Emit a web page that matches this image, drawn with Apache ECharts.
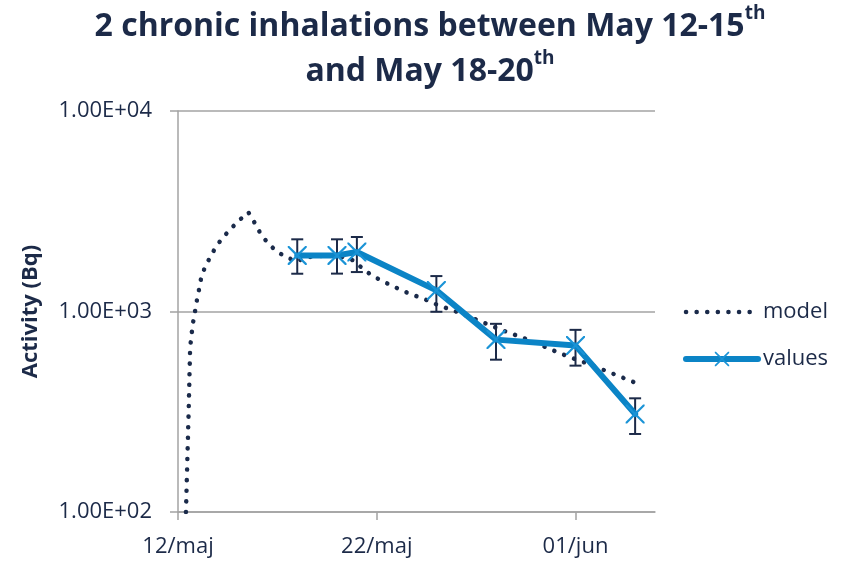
<!DOCTYPE html>
<html>
<head>
<meta charset="utf-8">
<script src="https://cdn.jsdelivr.net/npm/echarts@6/dist/echarts.min.js"></script>
<style>html,body{margin:0;padding:0;background:#fff}#c{width:848px;height:561px}</style>
</head>
<body>
<div id="c"></div>
<script>
// x values are days since 12 May
var xTickLabels = ['12/maj', '22/maj', '01/jun'];
var yTickLabels = ['1.00E+02', '1.00E+03', '1.00E+04'];

var modelDays = [0.40,0.54,0.61,0.74,0.84,0.94,1.06,1.16,1.35,1.62,1.92,2.27,2.68,3.08,3.54,3.84,4.14,4.49,4.90,5.40,5.96,6.46,7.0,7.6,8.2,8.82,9.28,9.75,10.28,10.81,11.35,11.9,12.44,13.0,13.56,14.12,15.2,16.35,17.42,18.54,19.63,20.76,21.87,22.96];
var modelValues = [100,331,661,861,980,1122,1288,1462,1660,1867,2113,2344,2600,2851,3126,2786,2459,2213,2018,1874,1778,1862,1890,1900,1880,1799,1641,1514,1418,1338,1263,1202,1148,1084,1035,989,895,804,735,661,596,543,490,443];

var valueDays = [6, 8, 9, 13, 16, 20, 23];
var valueMeans = [1905, 1905, 1980, 1274, 724, 676, 308];
var valueLow = [1543, 1545, 1573, 997, 575, 537, 245];
var valueHigh = [2291, 2291, 2352, 1502, 868, 810, 369];

var FONT = '"Open Sans", Carlito, Lato, sans-serif';
var TXT = '#1c2a48';
var AX = '#a3a3a3';

var modelData = modelDays.map(function (d, i) { return [d, modelValues[i]]; });
var valuesData = valueDays.map(function (d, i) { return [d, valueMeans[i]]; });
var errData = valueDays.map(function (d, i) { return [d, valueLow[i], valueHigh[i]]; });

var xPath = 'path://M0,0 L1.6,0 L10,8.4 L18.4,0 L20,0 L20,1.6 L11.6,10 L20,18.4 L20,20 L18.4,20 L10,11.6 L1.6,20 L0,20 L0,18.4 L8.4,10 L0,1.6 Z';
var modelDash = [0.1, 10.5];

var chart = echarts.init(document.getElementById('c'));
chart.setOption({
  backgroundColor: '#fff',
  animation: false,
  title: {
    text: '{a|2 chronic inhalations between May 12-15}{s|th}\n{a|and May 18-20}{s|th}',
    left: 430, top: 4, textAlign: 'center', padding: 0,
    textStyle: {
      rich: {
        a: { fontFamily: FONT, fontSize: 32, fontWeight: 'bold', color: TXT, lineHeight: 45 },
        s: { fontFamily: FONT, fontSize: 19, fontWeight: 'bold', color: TXT, lineHeight: 35, verticalAlign: 'top' }
      }
    }
  },
  grid: { left: 178, right: 193, top: 111, bottom: 49, containLabel: false },
  legend: {
    orient: 'vertical', left: 683, top: 301, padding: 0,
    itemWidth: 72, itemHeight: 18, itemGap: 25,
    data: [
      { name: 'model', itemStyle: { opacity: 0 }, lineStyle: { width: 4.5, type: modelDash, cap: 'round', color: '#1a2a4a' } },
      { name: 'values', lineStyle: { width: 6, cap: 'round', color: '#0b84c6' } }
    ],
    textStyle: { fontFamily: FONT, fontSize: 22, color: TXT }
  },
  xAxis: {
    type: 'value', min: 0, max: 24, interval: 10,
    axisLine: { show: true, lineStyle: { color: AX, width: 1.5 } },
    axisTick: { show: true, length: 8, customValues: [0, 10, 20], lineStyle: { color: AX, width: 1.5 } },
    axisLabel: {
      customValues: [0, 10, 20], margin: 24,
      fontFamily: FONT, fontSize: 22, color: TXT,
      formatter: function (v) { var k = Math.round(v / 10); return xTickLabels[k] || ''; }
    },
    splitLine: { show: false }
  },
  yAxis: {
    type: 'log', logBase: 10, min: 100, max: 10000,
    name: 'Activity (Bq)', nameLocation: 'middle', nameGap: 136,
    nameTextStyle: { fontFamily: FONT, fontSize: 22, fontWeight: 'bold', color: TXT },
    axisLine: { show: true, lineStyle: { color: AX, width: 1.5 } },
    axisTick: { show: true, length: 8, lineStyle: { color: AX, width: 1.5 } },
    minorTick: { show: false },
    axisLabel: {
      margin: 26, fontFamily: FONT, fontSize: 22, color: TXT,
      formatter: function (v) { var k = Math.round(Math.log10(v)) - 2; return yTickLabels[k] || ''; }
    },
    splitLine: { show: true, lineStyle: { color: AX, width: 1.5 } }
  },
  series: [
    {
      name: 'model', type: 'line', data: modelData, z: 2,
      symbol: 'none', showSymbol: false,
      lineStyle: { color: '#1a2a4a', width: 4.5, type: modelDash, cap: 'round' },
      itemStyle: { color: '#1a2a4a' }
    },
    {
      name: 'errors', type: 'custom', data: errData, z: 3,
      renderItem: function (params, api) {
        var x = api.value(0);
        var lo = api.coord([x, api.value(1)]);
        var hi = api.coord([x, api.value(2)]);
        var w = 6;
        var st = { stroke: '#1c2a48', lineWidth: 2 };
        return {
          type: 'group',
          children: [
            { type: 'line', shape: { x1: lo[0], y1: lo[1], x2: hi[0], y2: hi[1] }, style: st },
            { type: 'line', shape: { x1: lo[0] - w, y1: lo[1], x2: lo[0] + w, y2: lo[1] }, style: st },
            { type: 'line', shape: { x1: hi[0] - w, y1: hi[1], x2: hi[0] + w, y2: hi[1] }, style: st }
          ]
        };
      }
    },
    {
      name: 'values', type: 'line', data: valuesData, z: 4,
      symbol: xPath, symbolSize: 19, showSymbol: true,
      lineStyle: { color: '#0b84c6', width: 6, cap: 'round', join: 'round' },
      itemStyle: { color: '#1a93d6' }
    }
  ]
});
</script>
</body>
</html>
